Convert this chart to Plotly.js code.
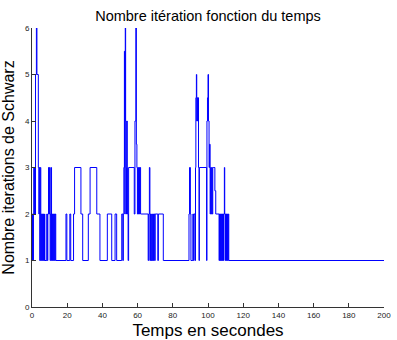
<!DOCTYPE html>
<html>
<head>
<meta charset="utf-8">
<script src="https://cdn.plot.ly/plotly-3.0.1.min.js"></script>
<style>html,body{margin:0;padding:0;background:#fff;}#chart{width:397px;height:340px;}</style>
</head>
<body>
<div id="chart"></div>
<script>
// Time (s) at which the iteration count changes, and the new count
const changeTimes = [
  0, 0.3, 0.6, 0.8, 1.0, 1.3, 1.5, 1.8, 2.0, 2.5, 2.8, 3.6, 3.9, 4.1, 4.4, 4.7, 5.0, 5.3, 5.6, 5.9,
  6.2, 6.5, 6.8, 7.1, 7.3, 8.4, 8.7, 9.0, 9.4, 9.7, 10.0, 10.3, 10.6, 10.9, 11.1, 11.4, 11.7, 12.0, 12.3, 12.6,
  12.9, 13.2, 13.5,
  19.3, 19.8, 21.5, 22.0, 23.6, 24.2, 27.8, 28.8, 32.0, 33.0, 36.8, 38.6, 42.8, 45.3, 47.2, 48.1,
  51.0, 51.6, 51.9, 52.2, 52.5, 52.7, 53.0, 53.2, 53.5, 53.7, 53.9, 54.1, 54.3, 54.6, 54.9,
  58.1, 58.5, 59.0, 59.3, 59.6, 59.9, 60.2, 60.5, 60.8, 61.1, 61.4, 61.7, 62.0,
  66.0, 66.3, 66.7, 67.0, 67.3, 67.6, 68.0, 68.3, 68.6, 69.0, 69.3, 69.7, 70.0, 71.5, 71.8, 74.6,
  89.2, 89.5, 90.0, 90.3, 91.4, 91.7, 92.0, 92.6, 92.9, 93.1, 93.4, 93.6, 93.8, 94.1, 94.3, 94.6, 94.9, 95.1,
  99.2, 99.4, 99.7, 100.0, 100.3, 100.6, 100.9, 101.2, 101.5, 101.8, 102.1, 102.4, 102.7, 103.0, 103.9, 104.4,
  106.3, 106.5, 106.8, 107.0, 107.3, 107.5, 107.8, 108.0, 108.3, 108.5, 108.8, 109.0, 109.3, 109.5, 109.8,
  110.0, 110.3, 110.5, 110.8, 111.0, 111.3, 111.5, 111.8,
  200
];
const iterations = [
  1, 2, 1, 2, 3, 2, 3, 2, 5, 6, 5, 3, 2, 3, 1, 3, 1, 2, 1, 2,
  1, 2, 1, 2, 1, 2, 1, 2, 3, 2, 3, 1, 2, 3, 1, 2, 1, 2, 1, 2,
  1, 2, 1,
  2, 1, 2, 1, 2, 3, 2, 1, 2, 3, 2, 1, 2, 1, 2, 1,
  2, 1, 2, 3, 5.5, 2, 6, 4, 3, 2, 4, 3, 2, 1, 3,
  2, 4, 6, 3.5, 3, 2, 3, 2, 3, 2, 3, 2, 2,
  1, 2, 3, 1, 2, 1, 2, 1, 2, 1, 2, 1, 2, 1, 2, 1,
  2, 3, 2, 1, 2, 1, 2, 1, 3, 4.5, 5, 4, 4.5, 4, 4.5, 3, 1, 3,
  1, 4, 4.5, 5, 4, 3, 3.5, 2, 3, 2, 3, 2, 3, 3, 2.5, 2,
  1, 2, 1, 2, 1, 2, 1, 2, 1, 2, 1, 2, 3, 2, 1,
  2, 1, 2, 1, 2, 1, 2, 1,
  1
];
const xTickVals = [0, 20, 40, 60, 80, 100, 120, 140, 160, 180, 200];
const yTickVals = [0, 1, 2, 3, 4, 5, 6];
const chartTitle = 'Nombre itération fonction du temps';
const xTitle = 'Temps en secondes';
const yTitle = 'Nombre iterations de Schwarz';

const trace = {
  x: changeTimes,
  y: iterations,
  type: 'scatter',
  mode: 'lines',
  line: {color: '#0000ff', width: 1, shape: 'hv'},
  hoverinfo: 'skip'
};

const axisCommon = {
  showgrid: false,
  zeroline: false,
  showline: true,
  linecolor: '#333333',
  linewidth: 1,
  mirror: false,
  ticks: 'inside',
  ticklen: 4,
  tickwidth: 1,
  tickcolor: '#333333',
  tickfont: {family: 'Liberation Sans, Arial, sans-serif', size: 8, color: '#222222'}
};

const layout = {
  width: 397,
  height: 340,
  margin: {l: 32, r: 13, t: 28, b: 33},
  paper_bgcolor: '#ffffff',
  plot_bgcolor: '#ffffff',
  showlegend: false,
  title: {
    text: chartTitle,
    font: {family: 'Liberation Sans, Arial, sans-serif', size: 14.5, color: '#000000'},
    x: 0.5, xref: 'paper', xanchor: 'center',
    y: 1 - 16 / 340, yref: 'container', yanchor: 'middle'
  },
  xaxis: Object.assign({}, axisCommon, {
    range: [0, 200],
    tickvals: xTickVals,
    ticktext: xTickVals.map(String),
    title: {text: xTitle, standoff: 5,
      font: {family: 'Liberation Sans, Arial, sans-serif', size: 17, color: '#000000'}}
  }),
  yaxis: Object.assign({}, axisCommon, {
    range: [0, 6],
    tickvals: yTickVals,
    ticktext: yTickVals.map(String),
    title: {text: yTitle, standoff: 6,
      font: {family: 'Liberation Sans, Arial, sans-serif', size: 16, color: '#000000'}}
  })
};

Plotly.newPlot('chart', [trace], layout, {displayModeBar: false, staticPlot: true});
</script>
</body>
</html>
